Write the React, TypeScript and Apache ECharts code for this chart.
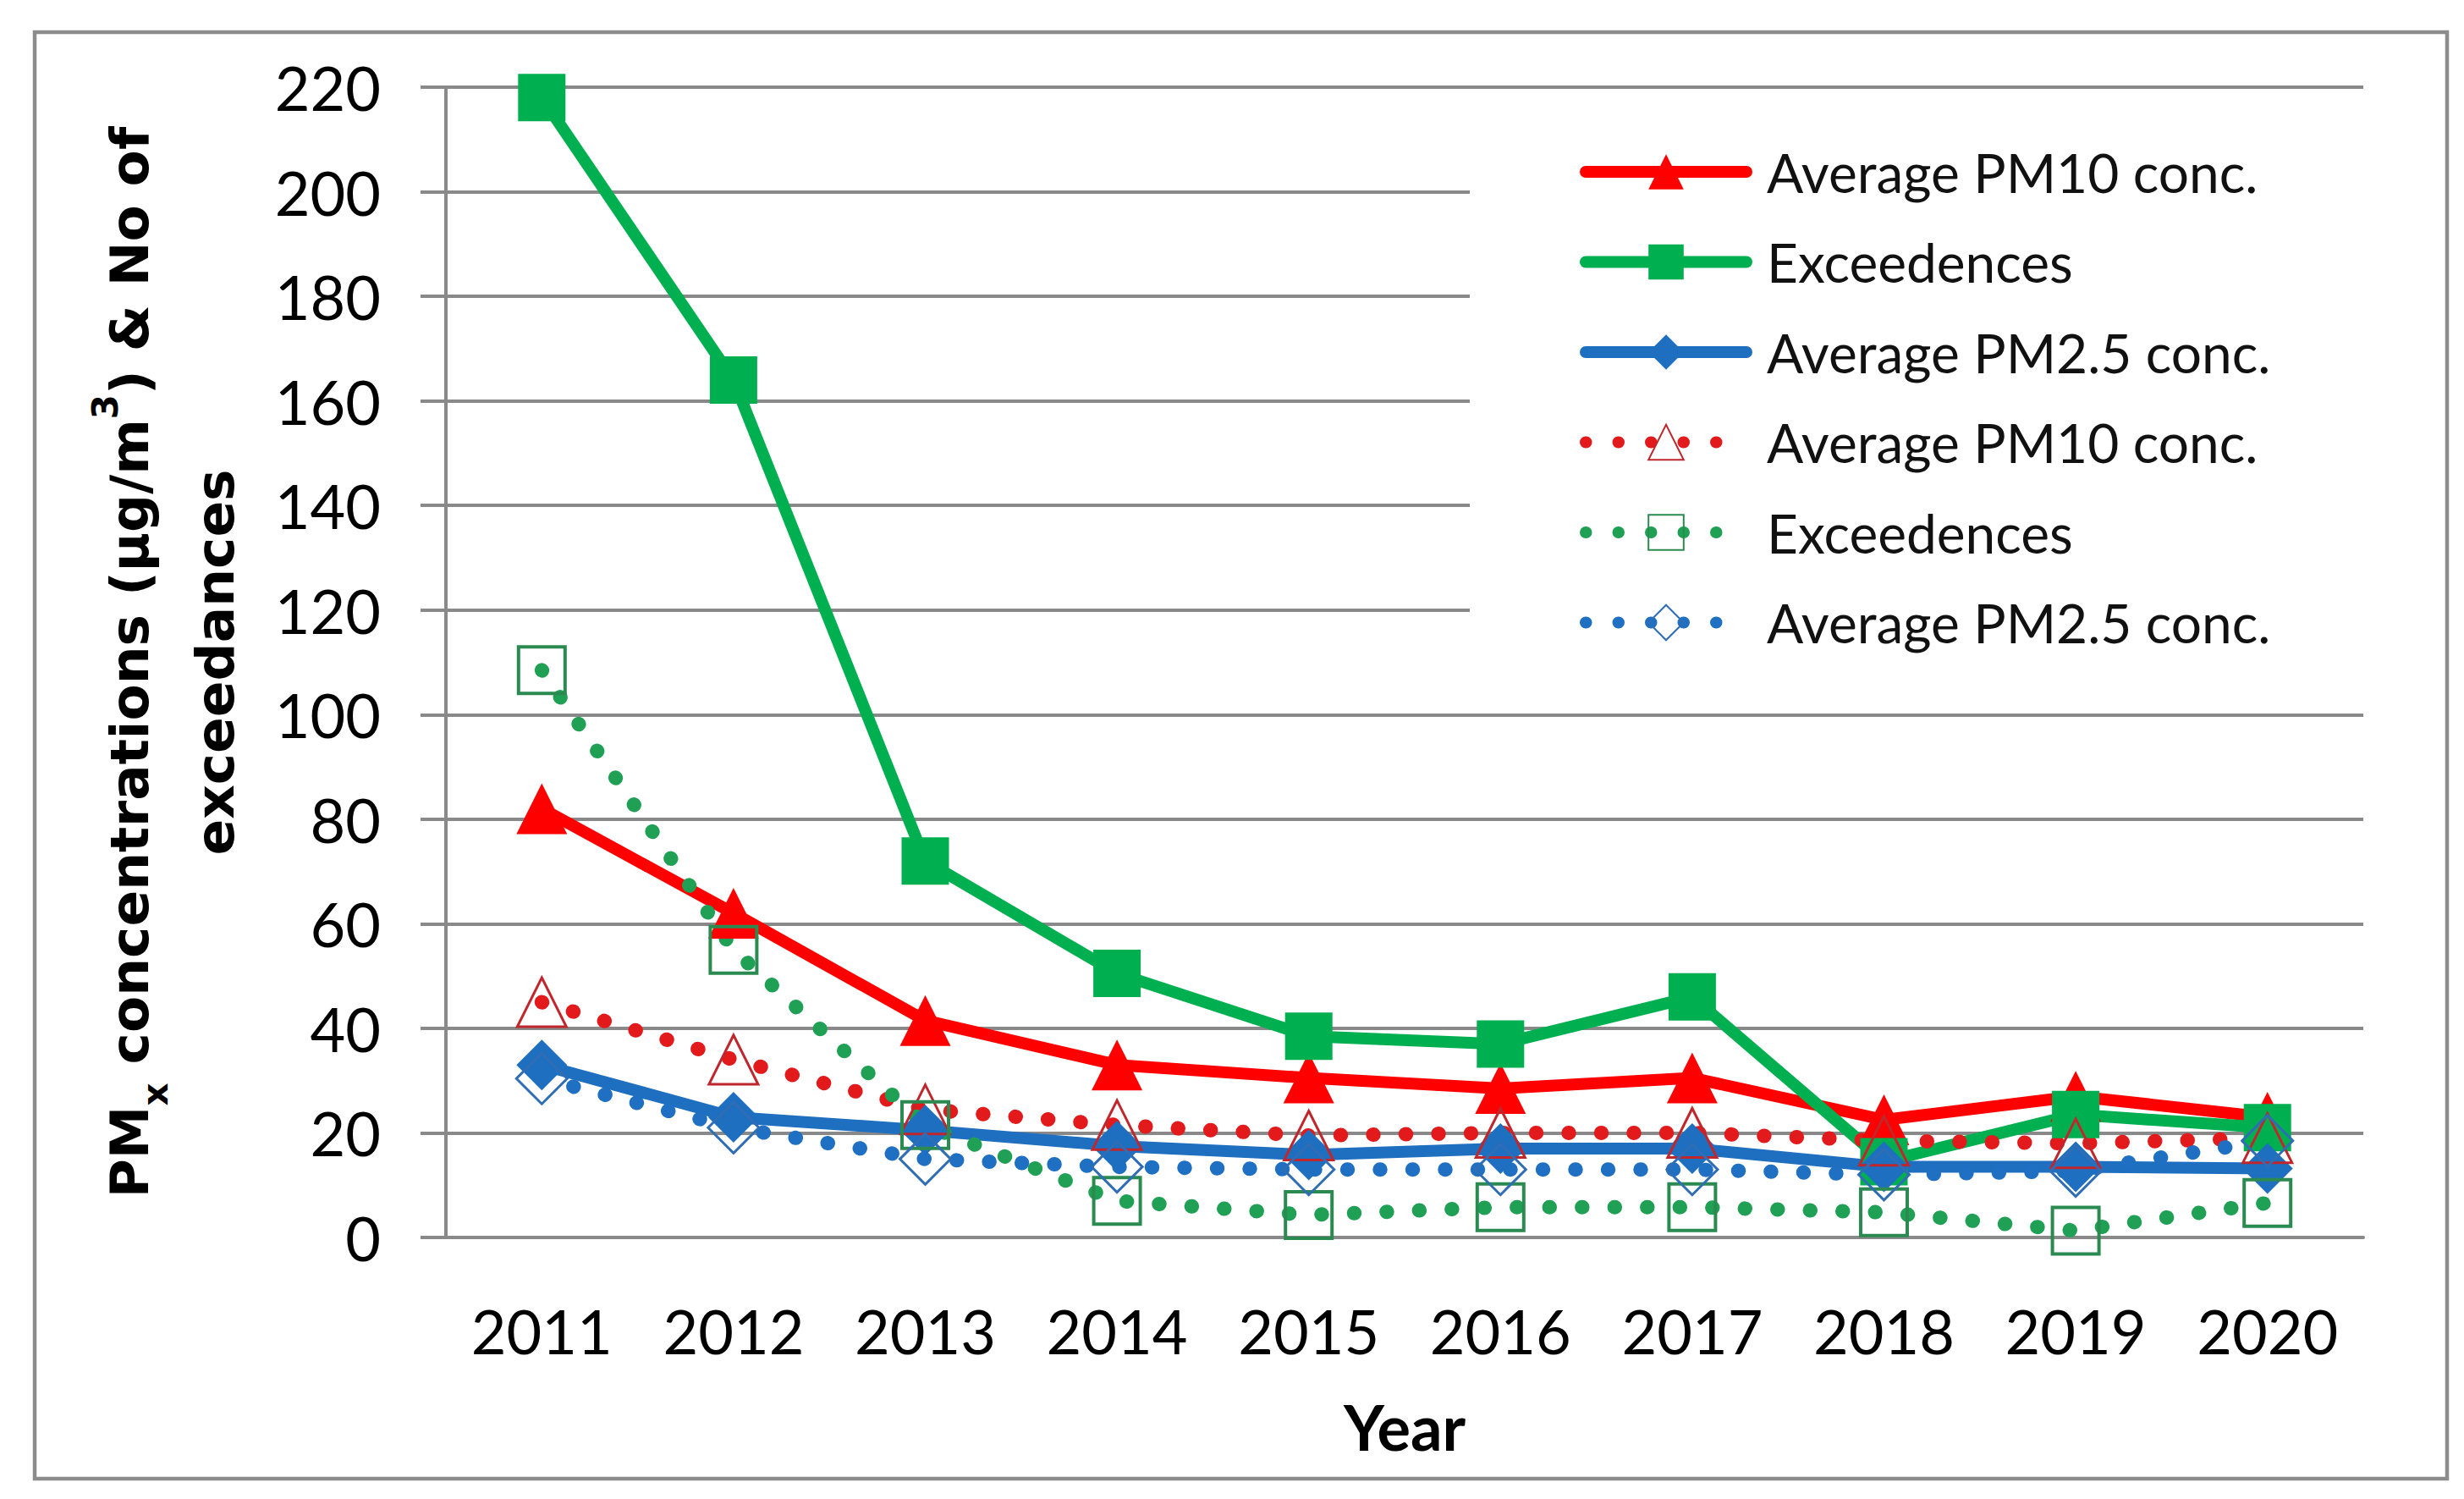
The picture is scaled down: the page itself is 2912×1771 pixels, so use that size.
import React, { useEffect, useRef } from "react";
import * as echarts from "echarts";

const years = ["2011", "2012", "2013", "2014", "2015", "2016", "2017", "2018", "2019", "2020"];
const yTicks = { min: 0, max: 220, interval: 20 };

const pm10Solid = [82, 62, 41.5, 33, 30.5, 28.5, 30.5, 22.5, 27, 23];
const exceedSolid = [218, 164, 72, 50.5, 38.5, 37, 46, 14.5, 23.5, 21];
const pm25Solid = [33, 23, 20.5, 17.5, 15.8, 17, 17, 13.5, 13.5, 13.2];
const pm10Dotted = [45, 34, 24.5, 21.5, 19.5, 20, 20, 18.5, 18, 19];
const exceedDotted = [108.5, 55, 21.5, 7, 4.3, 5.8, 5.8, 4.8, 1.3, 6.6];
const pm25Dotted = [30.4, 21, 15, 13.5, 13, 13, 13, 12, 12.7, 18.5];

const legendLabels: Record<string, string> = {
  s1: "Average PM10 conc.",
  s2: "Exceedences",
  s3: "Average PM2.5 conc.",
  s4: "Average PM10 conc.",
  s5: "Exceedences",
  s6: "Average PM2.5 conc.",
};

const GRID = "#898989";
const TICK_FONT = "Lato, 'Open Sans', sans-serif";

export default function App() {
  const ref = useRef<HTMLDivElement>(null);

  useEffect(() => {
    if (!ref.current) return;
    const chart = echarts.init(ref.current, undefined, { renderer: "svg" });

    const dotted = [0.5, 38];

    const solidSeries = (name: string, data: number[], color: string, symbol: string, size: number) => ({
      name,
      type: "line",
      data,
      symbol,
      symbolSize: size,
      lineStyle: { color, width: 14, cap: "round", join: "round" },
      itemStyle: { color },
    });
    const dottedSeries = (
      name: string,
      data: number[],
      color: string,
      border: string,
      symbol: string,
      size: number,
      bw: number
    ) => ({
      name,
      type: "line",
      data,
      symbol,
      symbolSize: size,
      lineStyle: { color, width: 17, type: dotted, cap: "round" },
      itemStyle: { color: "rgba(255,255,255,0)", borderColor: border, borderWidth: bw },
    });

    chart.setOption({
      animation: false,
      backgroundColor: "#ffffff",
      grid: { left: 527, top: 103, right: 119, bottom: 309, containLabel: false },
      xAxis: {
        type: "category",
        data: years,
        boundaryGap: true,
        axisLine: { show: true, lineStyle: { color: GRID, width: 4 } },
        axisTick: { show: false },
        axisLabel: {
          margin: 74,
          fontSize: 72,
          lineHeight: 72,
          fontFamily: TICK_FONT,
          color: "#000",
        },
        name: "Year",
        nameLocation: "middle",
        nameGap: 186,
        nameTextStyle: {
          fontSize: 74,
          lineHeight: 74,
          fontWeight: "bold",
          fontFamily: TICK_FONT,
          color: "#000",
        },
      },
      yAxis: {
        type: "value",
        min: yTicks.min,
        max: yTicks.max,
        interval: yTicks.interval,
        axisLine: { show: true, lineStyle: { color: GRID, width: 4 } },
        axisTick: { show: true, length: 30, lineStyle: { color: GRID, width: 4 } },
        splitLine: { show: true, lineStyle: { color: GRID, width: 4 } },
        axisLabel: {
          margin: 77,
          fontSize: 72,
          lineHeight: 72,
          fontFamily: TICK_FONT,
          color: "#000",
        },
        name:
          "{b|PM}{sub|x}{b| concentrations (µg/m}{sup|3}{b|) & No of}\n{b|exceedances}",
        nameLocation: "middle",
        nameRotate: 90,
        nameGap: 222,
        nameTextStyle: {
          color: "#000",
          rich: {
            b: {
              fontSize: 63,
              fontWeight: "bold",
              fontFamily: "'DejaVu Sans', sans-serif",
              lineHeight: 101,
              color: "#000",
            },
            sub: {
              fontSize: 42,
              fontWeight: "bold",
              fontFamily: "'DejaVu Sans', sans-serif",
              lineHeight: 58,
              verticalAlign: "bottom",
              color: "#000",
            },
            sup: {
              fontSize: 42,
              fontWeight: "bold",
              fontFamily: "'DejaVu Sans', sans-serif",
              lineHeight: 60,
              verticalAlign: "top",
              color: "#000",
            },
          },
        },
      },
      legend: {
        orient: "vertical",
        left: 1867,
        top: 171,
        padding: 0,
        itemWidth: 190,
        itemHeight: 52,
        itemGap: 42.5,
        data: ["s1", "s2", "s3", "s4", "s5", "s6"],
        formatter: (name: string) => legendLabels[name] ?? name,
        lineStyle: { width: 14 },
        textStyle: {
          fontSize: 64,
          lineHeight: 52,
          fontFamily: TICK_FONT,
          color: "#111",
          padding: [0, 0, 0, 19],
        },
        selectedMode: false,
      },
      graphic: [
        {
          type: "rect",
          z: 1,
          silent: true,
          shape: { x: 1737, y: 160, width: 1056, height: 630 },
          style: { fill: "#ffffff" },
        },
        {
          type: "rect",
          z: 0,
          silent: true,
          shape: { x: 41, y: 38, width: 2851, height: 1709 },
          style: { fill: "none", stroke: "#8c8c8c", lineWidth: 4.5 },
        },
      ],
      series: [
        solidSeries("s1", pm10Solid, "#FF0000", "triangle", 60),
        solidSeries("s2", exceedSolid, "#00B050", "rect", 56),
        solidSeries("s3", pm25Solid, "#1E6FC0", "diamond", 60),
        dottedSeries("s4", pm10Dotted, "#E31A1C", "#C0272D", "triangle", 58, 3),
        dottedSeries("s5", exceedDotted, "#1FA055", "#2A8A50", "rect", 55, 4),
        dottedSeries("s6", pm25Dotted, "#1F6FC2", "#2F6DB5", "diamond", 60, 3),
      ],
    });

    return () => chart.dispose();
  }, []);

  return (
    <div
      ref={ref}
      style={{ position: "fixed", left: 0, top: 0, width: 2912, height: 1771, background: "#fff" }}
    />
  );
}
